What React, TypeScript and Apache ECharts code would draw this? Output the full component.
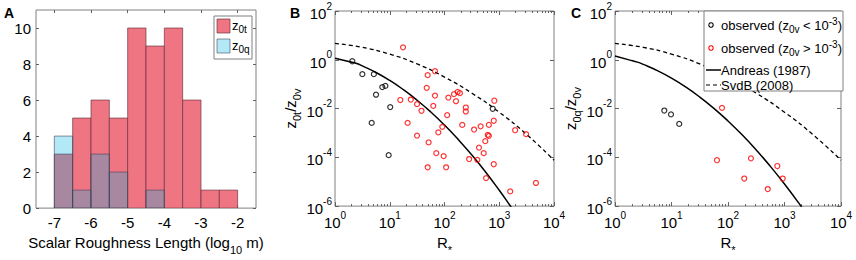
import React, { useEffect, useRef } from "react";
import * as echarts from "echarts";

// ---------- Panel A: histogram of scalar roughness lengths ----------
const binEdges = [-7, -6.5, -6, -5.5, -5, -4.5, -4, -3.5, -3, -2.5, -2];
const countsZ0t = [3, 5, 6, 5, 10, 9, 10, 6, 1, 1];
const countsZ0q = [4, 1, 3, 2, 0, 1, 0, 0, 0, 0];
const histXTicks = [-7, -6, -5, -4, -3, -2];
const histYTicks = [0, 2, 4, 6, 8, 10];

// ---------- Log axes ticks ----------
const logXTicks = [1, 10, 100, 1000, 10000];
const logYTicks = [1e-6, 1e-4, 1e-2, 1, 100];
const minorMultipliers = [2, 3, 4, 5, 6, 7, 8, 9];
const minorDecades = [1, 10, 100, 1000];

// ---------- Panel B: z0t / z0v vs R* ----------
const bLowObs = [
  [2.07, 0.87], [3.16, 0.257], [5.13, 0.257], [7.31, 0.076], [8.32, 0.085],
  [5.61, 0.037], [10.2, 0.0115], [4.68, 0.00257], [9.55, 1.23e-4], [759, 0.0098],
];
const bHighObs = [
  [17.5, 3.24], [49.3, 0.234], [67.0, 0.339], [47.3, 0.0708], [67.0, 0.0339],
  [117.5, 0.0282], [15.6, 0.0224], [24.2, 0.0234], [31.5, 0.0151], [62.4, 0.0129],
  [38.0, 0.0081], [112, 0.00537], [21.2, 0.00257], [91.2, 0.00178], [77.1, 0.00105],
  [31.5, 7.8e-4], [51.3, 4.1e-4], [70.8, 1.48e-4], [96.6, 1.12e-4], [49.3, 3.9e-5],
  [107, 3.9e-5], [149, 0.0389], [162, 0.02], [174, 0.0479], [191, 0.0427],
  [245, 0.011], [245, 0.0076], [211, 0.00214], [347, 0.00138], [457, 0.00186],
  [646, 0.00214], [813, 0.0209], [794, 0.00316], [617, 8.3e-4], [646, 7.6e-4],
  [556, 4.6e-4], [427, 2.5e-4], [520, 1.48e-4], [398, 7.9e-5], [282, 8.5e-5],
  [794, 5.2e-5], [575, 1.41e-5], [1950, 0.00129], [3090, 8.9e-4], [1585, 4.0e-6],
  [4680, 8.9e-6],
];

// ---------- Panel C: z0q / z0v vs R* ----------
const cLowObs = [[7.46, 0.0083], [9.8, 0.00575], [13.7, 0.00234]];
const cHighObs = [
  [78.3, 0.0107], [63.8, 7.6e-5], [255, 9.1e-5], [194, 1.35e-5],
  [746, 4.4e-5], [505, 5.0e-6], [929, 1.35e-5],
];

// ---------- Model curves ----------
const andreasT = [
  [1, 1.161], [1.778, 0.846], [2.5, 0.701], [3.162, 0.562], [5.623, 0.2999],
  [10, 0.1416], [17.78, 0.0593], [31.62, 0.02198], [56.23, 0.00722], [100, 0.0021],
  [177.8, 5.41e-4], [316.2, 1.235e-4], [562.3, 2.5e-5], [1000, 4.47e-6],
  [1585, 1.035e-6], [1778, 7.08e-7],
];
const andreasQ = [
  [1, 1.42], [1.778, 0.99], [2.5, 0.799], [3.162, 0.649], [5.623, 0.359],
  [10, 0.176], [17.78, 0.0766], [31.62, 0.0296], [56.23, 0.0102], [100, 0.00309],
  [177.8, 8.35e-4], [316.2, 2.0e-4], [562.3, 4.26e-5], [1000, 8.05e-6],
  [1778, 1.35e-6], [3162, 2.01e-7],
];
const svdb = [
  [1, 4.68], [3.162, 3.24], [10, 1.7], [31.62, 0.676], [100, 0.195],
  [316.2, 0.0427], [1000, 0.00708], [3162, 8.7e-4], [10000, 7.6e-5],
];

const FONT = "'Liberation Sans', Arial, Helvetica, sans-serif";
const BOX = "#808080";
const TICK = { color: "#606060", width: 1 };

const logMinor: number[] = [];
minorDecades.forEach((d) => minorMultipliers.forEach((m) => logMinor.push(d * m)));

const tickRich = {
  b: { fontSize: 15, fontFamily: FONT, color: "#000", lineHeight: 20, verticalAlign: "bottom" },
  s: { fontSize: 10, fontFamily: FONT, color: "#000", lineHeight: 10, verticalAlign: "top" },
};
const nameRich = {
  n: { fontSize: 15, fontFamily: FONT, color: "#000", lineHeight: 20, verticalAlign: "top" },
  sub: { fontSize: 11, fontFamily: FONT, color: "#000", lineHeight: 10, verticalAlign: "bottom" },
};
const legRich = {
  n: { fontSize: 13, fontFamily: FONT, color: "#000", lineHeight: 18, verticalAlign: "middle" },
  sub: { fontSize: 10, fontFamily: FONT, color: "#000", lineHeight: 10, verticalAlign: "bottom" },
  sup: { fontSize: 10, fontFamily: FONT, color: "#000", lineHeight: 6, verticalAlign: "top" },
};

const powLabel = (v: number) => `{b|10}{s|${Math.round(Math.log10(v))}}`;

const hidden = { show: false, onZero: false };

function histBins(counts: number[]) {
  return counts
    .map((c, i) => [binEdges[i], binEdges[i + 1], c])
    .filter((d) => d[2] > 0);
}

function histRender(fill: string, stroke: string) {
  return (_p: any, api: any) => {
    const p0 = api.coord([api.value(0), api.value(2)]);
    const p1 = api.coord([api.value(1), 0]);
    return {
      type: "rect",
      shape: { x: p0[0], y: p0[1], width: p1[0] - p0[0], height: p1[1] - p0[1] },
      style: { fill, stroke, lineWidth: 0.8 },
    };
  };
}

function logXAxisSet(grid: number) {
  const base = { gridIndex: grid, type: "log", logBase: 10, min: 1, max: 10000, axisLine: hidden, splitLine: { show: false } };
  return [
    {
      ...base,
      position: "bottom",
      axisTick: { show: true, inside: true, length: 4, customValues: logXTicks, lineStyle: TICK },
      axisLabel: { show: true, customValues: logXTicks, formatter: powLabel, rich: tickRich, margin: 4 },
      name: "{n|R}{sub|*}",
      nameLocation: "middle",
      nameGap: 26,
      nameTextStyle: { rich: nameRich },
    },
    { ...base, position: "top", axisTick: { show: true, inside: true, length: 4, customValues: logXTicks, lineStyle: TICK }, axisLabel: { show: false } },
    { ...base, position: "bottom", axisTick: { show: true, inside: true, length: 2, customValues: logMinor, lineStyle: TICK }, axisLabel: { show: false } },
    { ...base, position: "top", axisTick: { show: true, inside: true, length: 2, customValues: logMinor, lineStyle: TICK }, axisLabel: { show: false } },
  ];
}

function logYAxisSet(grid: number, name: string) {
  const base = { gridIndex: grid, type: "log", logBase: 10, min: 1e-6, max: 100, axisLine: hidden, splitLine: { show: false } };
  return [
    {
      ...base,
      position: "left",
      axisTick: { show: true, inside: true, length: 4, customValues: logYTicks, lineStyle: TICK },
      axisLabel: { show: true, customValues: logYTicks, formatter: powLabel, rich: tickRich, margin: 3 },
      name,
      nameLocation: "middle",
      nameRotate: 90,
      nameGap: 24,
      nameTextStyle: { rich: nameRich },
    },
    { ...base, position: "right", axisTick: { show: true, inside: true, length: 4, customValues: logYTicks, lineStyle: TICK }, axisLabel: { show: false } },
  ];
}

const scatterStyle = (color: string) => ({
  type: "scatter",
  symbol: "circle",
  symbolSize: 5,
  itemStyle: { color: "rgba(0,0,0,0)", borderColor: color, borderWidth: 1.2 },
  z: 4,
});

const TOP = { z: 100, zlevel: 1 };

const letter = (t: string, x: number) => ({
  type: "text", x, y: 13, ...TOP,
  style: { text: t, fill: "#000", fontSize: 14, fontWeight: "bold", fontFamily: FONT, verticalAlign: "middle" },
});

const legendText = (x: number, y: number, text: string) => ({
  type: "text", x, y, ...TOP,
  style: { text, rich: legRich, verticalAlign: "middle", align: "left" },
});

const option: any = {
  animation: false,
  backgroundColor: "#fff",
  textStyle: { fontFamily: FONT },
  grid: [
    { left: 36, top: 10, width: 220, height: 202, show: true, borderColor: BOX, borderWidth: 1, backgroundColor: "transparent" },
    { left: 335, top: 11, width: 219, height: 201, show: true, borderColor: BOX, borderWidth: 1, backgroundColor: "transparent" },
    { left: 615, top: 11, width: 226, height: 201, show: true, borderColor: BOX, borderWidth: 1, backgroundColor: "transparent" },
  ],
  xAxis: [
    {
      gridIndex: 0, type: "value", min: -7.5, max: -1.5, position: "bottom",
      axisLine: hidden, splitLine: { show: false },
      axisTick: { show: true, inside: true, length: 3, customValues: histXTicks, lineStyle: TICK },
      axisLabel: { show: true, customValues: histXTicks, margin: 7, fontSize: 15, fontFamily: FONT, color: "#000" },
      name: "{n|Scalar Roughness Length (log}{sub|10}{n| m)}",
      nameLocation: "middle",
      nameGap: 26,
      nameTextStyle: { rich: nameRich },
    },
    {
      gridIndex: 0, type: "value", min: -7.5, max: -1.5, position: "top",
      axisLine: hidden, splitLine: { show: false },
      axisTick: { show: true, inside: true, length: 3, customValues: histXTicks, lineStyle: TICK },
      axisLabel: { show: false },
    },
    ...logXAxisSet(1),
    ...logXAxisSet(2),
  ],
  yAxis: [
    {
      gridIndex: 0, type: "value", min: 0, max: 11, position: "left",
      axisLine: hidden, splitLine: { show: false },
      axisTick: { show: true, inside: true, length: 3, customValues: histYTicks, lineStyle: TICK },
      axisLabel: { show: true, customValues: histYTicks, margin: 5, fontSize: 15, fontFamily: FONT, color: "#000" },
    },
    {
      gridIndex: 0, type: "value", min: 0, max: 11, position: "right",
      axisLine: hidden, splitLine: { show: false },
      axisTick: { show: true, inside: true, length: 3, customValues: histYTicks, lineStyle: TICK },
      axisLabel: { show: false },
    },
    ...logYAxisSet(1, "{n|z}{sub|0t}{n|/z}{sub|0v}"),
    ...logYAxisSet(2, "{n|z}{sub|0q}{n|/z}{sub|0v}"),
  ],
  series: [
    {
      type: "custom", xAxisIndex: 0, yAxisIndex: 0, clip: true,
      renderItem: histRender("rgb(240,117,131)", "rgba(95,45,55,0.8)"),
      encode: { x: [0, 1], y: 2 },
      data: histBins(countsZ0t),
      z: 2,
    },
    {
      type: "custom", xAxisIndex: 0, yAxisIndex: 0, clip: true,
      renderItem: histRender("rgba(10,181,229,0.31)", "rgba(60,60,80,0.7)"),
      encode: { x: [0, 1], y: 2 },
      data: histBins(countsZ0q),
      z: 3,
    },
    // Panel B
    { type: "line", xAxisIndex: 2, yAxisIndex: 2, data: svdb, smooth: true, showSymbol: false, symbol: "none", clip: true, lineStyle: { color: "#000", width: 1.3, type: [4, 3] }, z: 2 },
    { type: "line", xAxisIndex: 2, yAxisIndex: 2, data: andreasT, smooth: true, showSymbol: false, symbol: "none", clip: true, lineStyle: { color: "#000", width: 1.5 }, z: 2 },
    { ...scatterStyle("#000"), xAxisIndex: 2, yAxisIndex: 2, data: bLowObs },
    { ...scatterStyle("#ff0000"), xAxisIndex: 2, yAxisIndex: 2, data: bHighObs },
    // Panel C
    { type: "line", xAxisIndex: 6, yAxisIndex: 4, data: svdb, smooth: true, showSymbol: false, symbol: "none", clip: true, lineStyle: { color: "#000", width: 1.3, type: [4, 3] }, z: 2 },
    { type: "line", xAxisIndex: 6, yAxisIndex: 4, data: andreasQ, smooth: true, showSymbol: false, symbol: "none", clip: true, lineStyle: { color: "#000", width: 1.5 }, z: 2 },
    { ...scatterStyle("#000"), xAxisIndex: 6, yAxisIndex: 4, data: cLowObs },
    { ...scatterStyle("#ff0000"), xAxisIndex: 6, yAxisIndex: 4, data: cHighObs },
  ],
  graphic: [
    letter("A", 4),
    letter("B", 290),
    letter("C", 571),
    // Legend A
    { type: "rect", ...TOP, shape: { x: 214, y: 16, width: 38, height: 43 }, style: { fill: "#fff", stroke: BOX, lineWidth: 1 } },
    { type: "rect", ...TOP, z2: 5, shape: { x: 217, y: 19, width: 13, height: 14 }, style: { fill: "rgb(240,117,131)", stroke: "rgba(95,45,55,0.8)", lineWidth: 0.8 } },
    { type: "rect", ...TOP, z2: 5, shape: { x: 217, y: 39, width: 13, height: 14 }, style: { fill: "rgba(10,181,229,0.31)", stroke: "rgba(60,60,80,0.7)", lineWidth: 0.8 } },
    legendText(232, 25, "{n|z}{sub|0t}"),
    legendText(232, 45, "{n|z}{sub|0q}"),
    // Legend C
    { type: "rect", ...TOP, shape: { x: 704, y: 11, width: 139, height: 80 }, style: { fill: "#fff", stroke: BOX, lineWidth: 1 } },
    { type: "circle", ...TOP, z2: 5, shape: { cx: 711, cy: 25, r: 2.2 }, style: { fill: "none", stroke: "#000", lineWidth: 1.1 } },
    legendText(721, 25, "{n|observed (z}{sub|0v}{n| < 10}{sup|-3}{n|)}"),
    { type: "circle", ...TOP, z2: 5, shape: { cx: 711, cy: 48, r: 2.2 }, style: { fill: "none", stroke: "#ff0000", lineWidth: 1.1 } },
    legendText(721, 48, "{n|observed (z}{sub|0v}{n| > 10}{sup|-3}{n|)}"),
    { type: "line", ...TOP, z2: 5, shape: { x1: 706, y1: 70, x2: 721, y2: 70 }, style: { stroke: "#000", lineWidth: 1.5 } },
    legendText(721, 70, "{n|Andreas (1987)}"),
    { type: "line", ...TOP, z2: 5, shape: { x1: 706, y1: 85, x2: 721, y2: 85 }, style: { stroke: "#000", lineWidth: 1.2, lineDash: [4, 3] } },
    legendText(721, 85, "{n|SvdB (2008)}"),
  ],
};

export default function App() {
  const ref = useRef<HTMLDivElement>(null);
  useEffect(() => {
    if (!ref.current) return;
    const chart = echarts.init(ref.current, null, { renderer: "svg" });
    chart.setOption(option);
    return () => chart.dispose();
  }, []);
  return (
    <div
      ref={ref}
      style={{ position: "absolute", left: 0, top: 0, width: 856, height: 260, background: "#fff" }}
    />
  );
}
